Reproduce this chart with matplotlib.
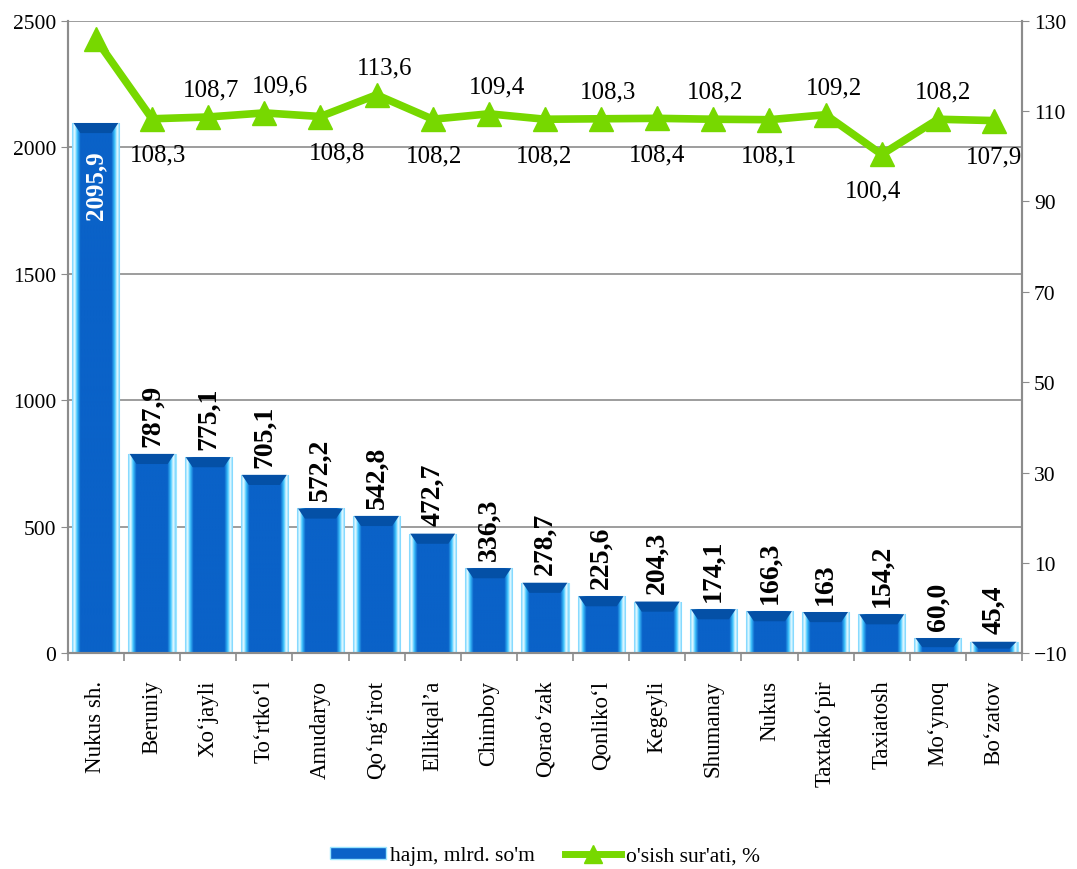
import numpy as np
import matplotlib
matplotlib.use("Agg")
import matplotlib.pyplot as plt
from matplotlib.colors import LinearSegmentedColormap
from matplotlib.patches import Rectangle, Polygon
from matplotlib.lines import Line2D

plt.rcParams['font.family'] = ['Liberation Serif', 'DejaVu Serif']

districts = ["Nukus sh.", "Beruniy", "Xo\u2018jayli", "To\u2018rtko\u2018l", "Amudaryo",
             "Qo\u2018ng\u2018irot", "Ellikqal\u2019a", "Chimboy", "Qorao\u2018zak",
             "Qonliko\u2018l", "Kegeyli", "Shumanay", "Nukus", "Taxtako\u2018pir",
             "Taxiatosh", "Mo\u2018ynoq", "Bo\u2018zatov"]
volume = [2095.9, 787.9, 775.1, 705.1, 572.2, 542.8, 472.7, 336.3, 278.7,
          225.6, 204.3, 174.1, 166.3, 163, 154.2, 60.0, 45.4]
volume_labels = ["2095,9", "787,9", "775,1", "705,1", "572,2", "542,8", "472,7",
                 "336,3", "278,7", "225,6", "204,3", "174,1", "166,3", "163",
                 "154,2", "60,0", "45,4"]
growth = [125.9, 108.3, 108.7, 109.6, 108.8, 113.6, 108.2, 109.4, 108.2,
          108.3, 108.4, 108.2, 108.1, 109.2, 100.4, 108.2, 107.9]
growth_labels = ["", "108,3", "108,7", "109,6", "108,8", "113,6", "108,2", "109,4",
                 "108,2", "108,3", "108,4", "108,2", "108,1", "109,2", "100,4",
                 "108,2", "107,9"]
growth_below = [False, True, False, False, True, False, True, False, True,
                False, True, False, True, False, True, False, True]

blue = "#0a62c8"
dark_blue = "#0450a6"
green = "#77d800"
grid_gray = "#8c8c8c"

fig = plt.figure(figsize=(10.77, 8.7), dpi=100)
ax = fig.add_axes([0.063, 0.248, 0.886, 0.727])
ax2 = ax.twinx()

x = np.arange(len(districts))
width = 0.84

ax.set_xlim(-0.5, len(districts) - 0.5)
ax.set_ylim(0, 2500)

# gradient across each bar: light cyan edges, blue core
cmap = LinearSegmentedColormap.from_list(
    "barg", [(0, "#7fd8ff"), (0.05, "#e8fbff"), (0.1, "#3fc6ff"), (0.17, blue),
             (0.83, blue), (0.9, "#3fc6ff"), (0.95, "#e8fbff"), (1, "#7fd8ff")])
grad = np.linspace(0, 1, 64).reshape(1, -1)
bars = ax.bar(x, volume, width=width, color=blue, edgecolor="#9be6ff", linewidth=0.8, zorder=2)
bevel = 40  # top bevel depth in data units
for b in bars:
    x0, y0 = b.get_x(), b.get_y()
    w, h = b.get_width(), b.get_height()
    im = ax.imshow(grad, cmap=cmap, aspect="auto", zorder=2.1,
                   extent=[x0, x0 + w, y0, y0 + h])
    im.set_clip_path(b)
    d = min(bevel, h * 0.6)
    ax.add_patch(Polygon([(x0 + 0.02, y0 + h), (x0 + w - 0.02, y0 + h),
                          (x0 + w * 0.83, y0 + h - d), (x0 + w * 0.17, y0 + h - d)],
                         closed=True, facecolor=dark_blue, edgecolor="none", zorder=2.2))

ax.set_yticks(np.arange(0, 2501, 500))
ax.yaxis.grid(True, color=grid_gray, linewidth=1.2, zorder=0)
ax.set_axisbelow(True)
ax.set_xticks(x)
ax.set_xticklabels(districts, rotation=90, fontsize=16.5)
ax.set_xticks(np.arange(-0.5, len(districts), 1.0), minor=True)
ax.tick_params(axis="y", labelsize=15.5, color=grid_gray, length=5)
ax.tick_params(axis="x", which="major", length=0, pad=19)
ax.tick_params(axis="x", which="minor", color=grid_gray, length=6, width=1.2)
for a in (ax, ax2):
    a.spines["top"].set_visible(False)
    for s in ["left", "right", "bottom"]:
        a.spines[s].set_color(grid_gray)
        a.spines[s].set_linewidth(1.5)

for i, (v, lab) in enumerate(zip(volume, volume_labels)):
    if i == 0:
        ax.annotate(lab, (i, v), xytext=(0, -20), textcoords="offset points",
                    rotation=90, ha="center", va="top", color="white",
                    fontsize=18, fontweight="bold", zorder=5)
    else:
        ax.annotate(lab, (i, v), xytext=(0, 6), textcoords="offset points",
                    rotation=90, ha="center", va="bottom", color="black",
                    fontsize=20, fontweight="bold", zorder=5)

ax2.plot(x, growth, color=green, linewidth=5.5, marker="^", markersize=17,
         solid_joinstyle="round", zorder=4)
ax2.set_ylim(-10, 130)
ax2.set_yticks(np.arange(-10, 131, 20))
ax2.tick_params(axis="y", labelsize=15.5, color=grid_gray, length=5)

# horizontal nudges of the growth labels, in points
label_dx = [0, 4, 2, 11, 12, 6, 1, 6, -1, 5, 0, 1, 0, 6, -6, 4, 0]
for i, (g, lab, below) in enumerate(zip(growth, growth_labels, growth_below)):
    if not lab:
        continue
    if below:
        ax2.annotate(lab, (i, g), xytext=(label_dx[i], -18), textcoords="offset points",
                     ha="center", va="top", fontsize=18)
    else:
        ax2.annotate(lab, (i, g), xytext=(label_dx[i], 12), textcoords="offset points",
                     ha="center", va="bottom", fontsize=18)

handles = [Rectangle((0, 0), 1, 1, facecolor=blue, edgecolor="#9be6ff"),
           Line2D([], [], color=green, linewidth=5, marker="^", markersize=13)]
fig.legend(handles, ["hajm, mlrd. so'm", "o'sish sur'ati, %"], loc="center",
           bbox_to_anchor=(0.506, 0.015), ncol=2, frameon=False, fontsize=15.5,
           handlelength=2.6, handleheight=0.45, columnspacing=1.4, handletextpad=0.2)

fig.savefig("out.png", dpi=100)
